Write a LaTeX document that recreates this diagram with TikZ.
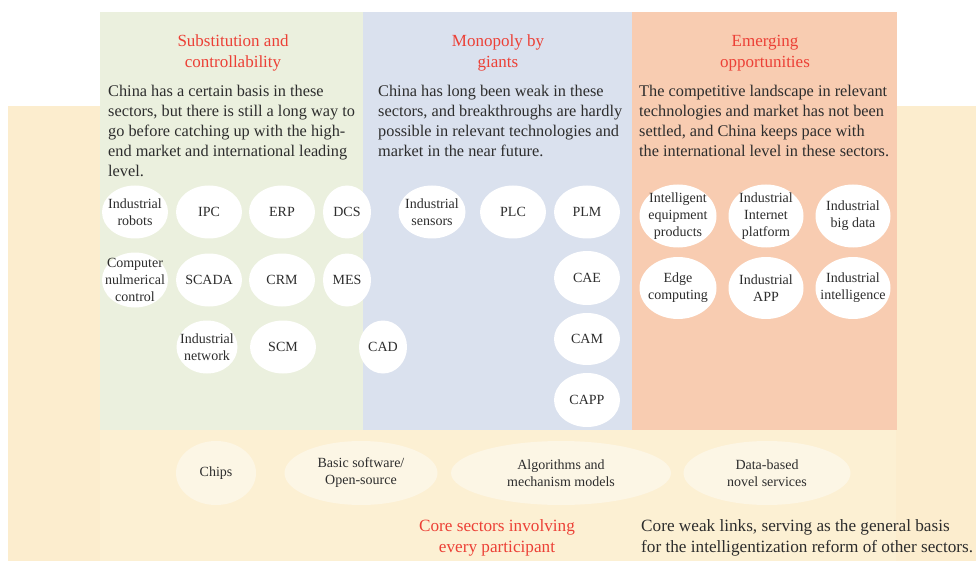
\documentclass[tikz,border=0pt]{standalone}
\usepackage{fontspec}
\setmainfont{Liberation Serif}
\usetikzlibrary{shapes.geometric}

\definecolor{bandyellow}{RGB}{252,237,206}
\definecolor{basepanel}{RGB}{252,240,211}
\definecolor{greenpanel}{RGB}{235,240,222}
\definecolor{bluepanel}{RGB}{218,225,238}
\definecolor{orangepanel}{RGB}{248,204,177}
\definecolor{titlered}{RGB}{236,64,54}
\definecolor{bodygrey}{RGB}{45,45,45}
\definecolor{creambubble}{RGB}{252,246,229}

\begin{document}
\begin{tikzpicture}[x=1pt, y=-1pt,
  title/.style={text=titlered, align=center, inner sep=0pt,
    font=\fontsize{17}{21}\selectfont},
  body/.style={text=bodygrey, align=left, inner sep=0pt, anchor=north west,
    font=\fontsize{16.3}{20}\selectfont},
  bubble/.style 2 args={ellipse, fill=white, draw=none, inner sep=0pt,
    minimum width=#1, minimum height=#2},
  basebubble/.style 2 args={bubble={#1}{#2}, fill=creambubble},
  tag/.style={text=bodygrey, align=center, inner sep=0pt,
    font=\fontsize{14}{17}\selectfont},
]
% canvas
\fill[white] (0,0) rectangle (976,561);
\useasboundingbox (0,0) rectangle (976,561);

% background bands and the three category panels
\fill[bandyellow] (8,106) rectangle (976,561);
\fill[basepanel] (100,430) rectangle (896,561);
\fill[greenpanel] (100,12) rectangle (363,430);
\fill[bluepanel] (363,12) rectangle (632,430);
\fill[orangepanel] (632,12) rectangle (897,430);

% panel headings
\node[title] (hsub) at (233,53) {Substitution and\\controllability};
\node[title] (hmon) at (498,53) {Monopoly by\\giants};
\node[title] (hemg) at (765,53) {Emerging\\opportunities};

% panel descriptions
\node[body] (dsub) at (108,85) {China has a certain basis in these\\
  sectors, but there is still a long way to\\
  go before catching up with the high-\\
  end market and international leading\\
  level.};
\node[body] (dmon) at (378,85) {China has long been weak in these\\
  sectors, and breakthroughs are hardly\\
  possible in relevant technologies and\\
  market in the near future.};
\node[body] (demg) at (639,85) {The competitive landscape in relevant\\
  technologies and market has not been\\
  settled, and China keeps pace with\\
  the international level in these sectors.};

% substitution and controllability
\node[bubble={66}{53}, label={[tag]center:Industrial\\robots}] (robots) at (135,212) {};
\node[bubble={66}{53}, label={[tag]center:IPC}] (ipc) at (209,212) {};
\node[bubble={66}{53}, label={[tag]center:ERP}] (erp) at (282,212) {};
\node[bubble={48}{53}, label={[tag]center:DCS}] (dcs) at (347,212) {};
\node[bubble={66}{55}, label={[tag]center:Computer\\nulmerical\\control}] (cnc) at (135,280) {};
\node[bubble={66}{53}, label={[tag]center:SCADA}] (scada) at (209,280) {};
\node[bubble={66}{53}, label={[tag]center:CRM}] (crm) at (282,280) {};
\node[bubble={48}{53}, label={[tag]center:MES}] (mes) at (347,280) {};
\node[bubble={61}{53}, label={[tag]center:Industrial\\network}] (inet) at (207,347) {};
\node[bubble={66}{53}, label={[tag]center:SCM}] (scm) at (283,347) {};
\node[bubble={48}{53}, label={[tag]center:CAD}] (cad) at (383,347) {};

% monopoly by giants
\node[bubble={67}{53}, label={[tag]center:Industrial\\sensors}] (sensors) at (432,212) {};
\node[bubble={66}{53}, label={[tag]center:PLC}] (plc) at (513,212) {};
\node[bubble={66}{53}, label={[tag]center:PLM}] (plm) at (587,212) {};
\node[bubble={66}{54}, label={[tag]center:CAE}] (cae) at (587,278) {};
\node[bubble={66}{52}, label={[tag]center:CAM}] (cam) at (587,339) {};
\node[bubble={66}{54}, label={[tag]center:CAPP}] (capp) at (587,400) {};

% emerging opportunities
\node[bubble={77}{63}, label={[tag]center:Intelligent\\equipment\\products}] (iep) at (678,216) {};
\node[bubble={75}{63}, label={[tag]center:Industrial\\Internet\\platform}] (iip) at (766,216) {};
\node[bubble={75}{63}, label={[tag]center:Industrial\\big data}] (ibd) at (853,216) {};
\node[bubble={77}{62}, label={[tag]center:Edge\\computing}] (edge) at (678,288) {};
\node[bubble={75}{62}, label={[tag]center:Industrial\\APP}] (iapp) at (766,288) {};
\node[bubble={75}{62}, label={[tag]center:Industrial\\intelligence}] (iint) at (853,288) {};

% core sectors
\node[basebubble={80}{64}, label={[tag]center:Chips}] (chips) at (216,473) {};
\node[basebubble={153}{64}, label={[tag]center:Basic software/\\Open-source}] (bsw) at (361,473) {};
\node[basebubble={220}{64}, label={[tag]center:Algorithms and\\mechanism models}] (algo) at (561,473) {};
\node[basebubble={167}{64}, label={[tag]center:Data-based\\novel services}] (data) at (767,473) {};

\node[title, font=\fontsize{17.2}{21}\selectfont] (hcore) at (497,538) {Core sectors involving\\every participant};
\node[body, anchor=west, font=\fontsize{17.2}{21}\selectfont] (dcore) at (641,538) {Core weak links, serving as the general basis\\
  for the intelligentization reform of other sectors.};
\end{tikzpicture}
\end{document}
